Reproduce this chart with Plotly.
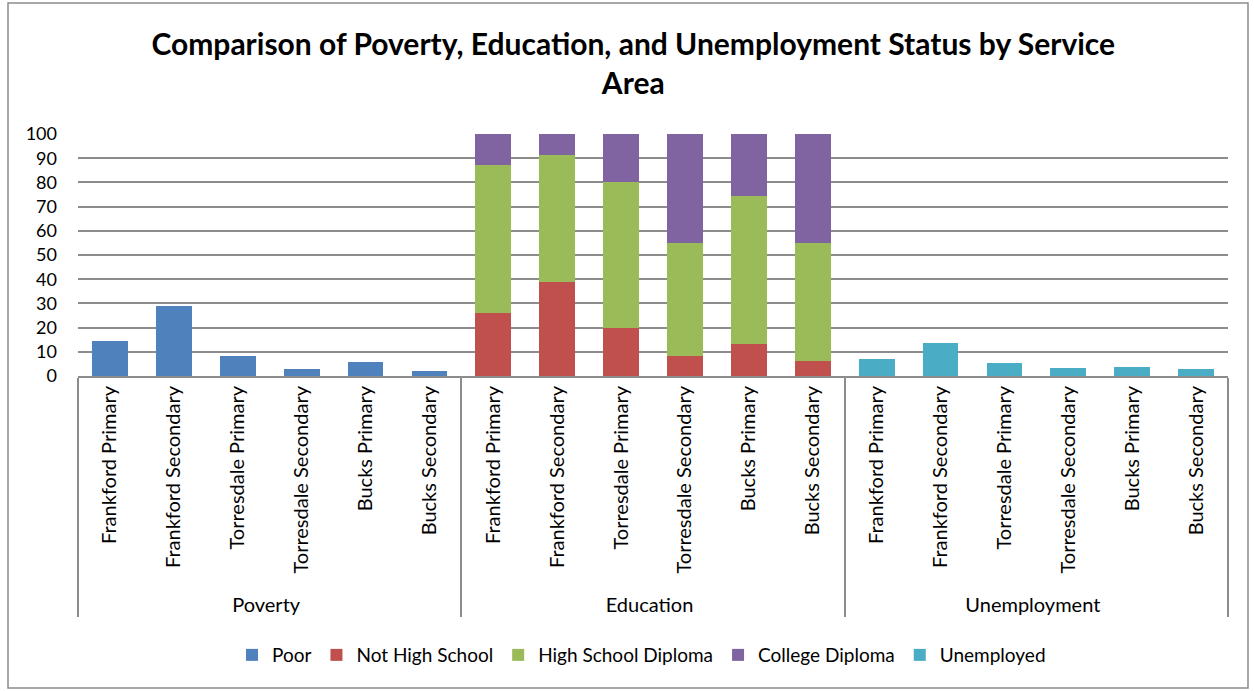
import plotly.graph_objects as go

areas = ["Frankford Primary", "Frankford Secondary", "Torresdale Primary",
         "Torresdale Secondary", "Bucks Primary", "Bucks Secondary"]
groups = ["Poverty", "Education", "Unemployment"]

poor = [14.5, 29.0, 8.2, 3.1, 5.7, 2.1]
not_high_school = [26.1, 39.0, 19.7, 8.3, 13.4, 6.4]
high_school_diploma = [61.2, 52.4, 60.3, 46.5, 61.0, 48.7]
college_diploma = [12.7, 8.6, 20.0, 45.2, 25.6, 44.9]
unemployed = [7.2, 13.5, 5.2, 3.5, 3.9, 2.9]

colors = {
    "Poor": "#4F81BD",
    "Not High School": "#C0504D",
    "High School Diploma": "#9BBB59",
    "College Diploma": "#8064A2",
    "Unemployed": "#4BACC6",
}

FONT = "Lato"

def xs(group):
    return [[group] * len(areas), areas]

fig = go.Figure()
fig.add_trace(go.Bar(name="Poor", x=xs(groups[0]), y=poor, marker_color=colors["Poor"]))
fig.add_trace(go.Bar(name="Not High School", x=xs(groups[1]), y=not_high_school,
                     marker_color=colors["Not High School"]))
fig.add_trace(go.Bar(name="High School Diploma", x=xs(groups[1]), y=high_school_diploma,
                     marker_color=colors["High School Diploma"]))
fig.add_trace(go.Bar(name="College Diploma", x=xs(groups[1]), y=college_diploma,
                     marker_color=colors["College Diploma"]))
fig.add_trace(go.Bar(name="Unemployed", x=xs(groups[2]), y=unemployed,
                     marker_color=colors["Unemployed"]))

fig.update_traces(marker_line_width=0)

fig.update_layout(
    width=1254, height=691,
    barmode="stack", bargap=0.44,
    paper_bgcolor="white", plot_bgcolor="white",
    font=dict(family=FONT, size=19, color="black"),
    margin=dict(l=78, r=26, t=134, b=315),
    title=dict(text="<b>Comparison of Poverty, Education, and Unemployment Status by Service<br>Area</b>",
               x=0.505, xanchor="center", y=0.92, yanchor="top",
               font=dict(family=FONT, size=30, color="black")),
    legend=dict(orientation="h", x=0.49, xanchor="center", y=-1.153, yanchor="middle",
                font=dict(family=FONT, size=19), traceorder="normal",
                itemwidth=30),
    showlegend=True,
)
fig.update_yaxes(range=[0, 100], dtick=10, showgrid=True, gridcolor="#8C8C8C", gridwidth=1.5,
                 showline=False, zeroline=False, ticks="", ticklabelstandoff=20,
                 tickfont=dict(family=FONT, size=18))
fig.update_xaxes(type="multicategory", tickangle=-90, showline=True, linecolor="#8C8C8C",
                 linewidth=2, showdividers=True, dividercolor="#8C8C8C", dividerwidth=2,
                 ticks="", tickfont=dict(family=FONT, size=20))

fig.add_shape(type="rect", xref="paper", yref="paper",
              x0=(8 - 78) / 1150, x1=(1248 - 78) / 1150,
              y0=(376 - 688) / 242, y1=(376 - 3) / 242,
              line=dict(color="#8C8C8C", width=1.5), fillcolor="rgba(0,0,0,0)", layer="below")

fig.write_html("out.html", config={"displayModeBar": False},
               post_script="document.body.style.margin='0';")
